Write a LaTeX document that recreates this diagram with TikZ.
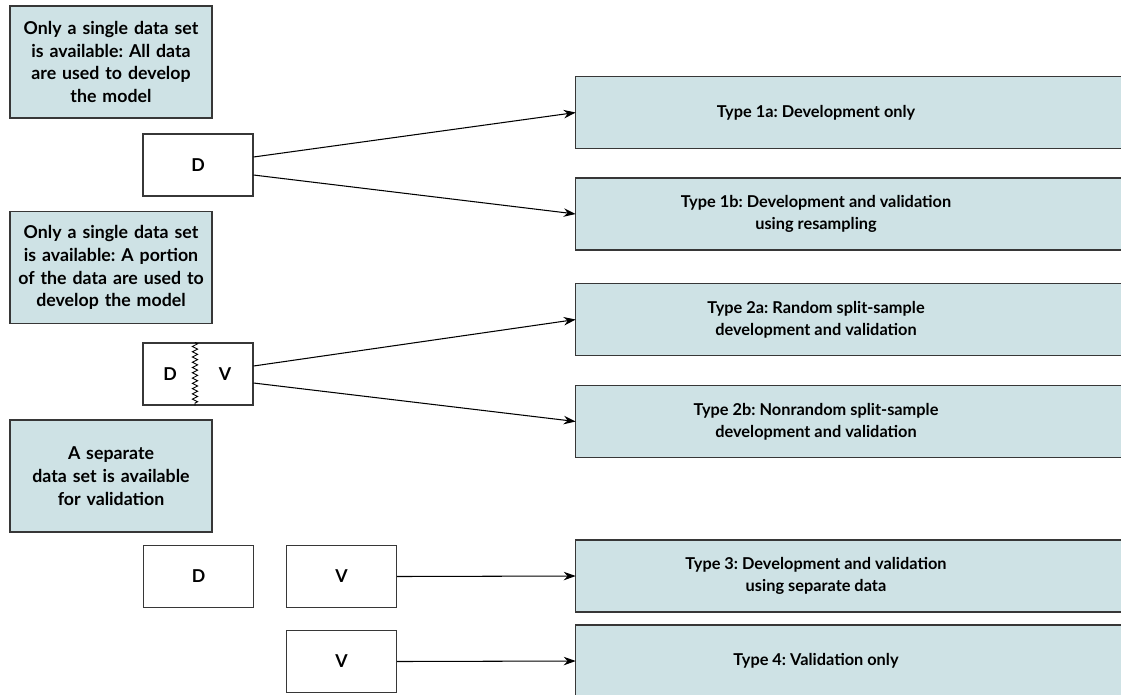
\documentclass[tikz,border=0pt]{standalone}
\usepackage{fontspec}
\setmainfont{Lato}
\frenchspacing
\usetikzlibrary{arrows.meta,backgrounds,decorations.pathmorphing}
\definecolor{boxfill}{RGB}{206,226,229}
\definecolor{boxline}{RGB}{55,55,55}
\tikzset{
	labelfont/.style={font=\bfseries\fontsize{9.3}{12.6}\selectfont},
	notefont/.style={font=\bfseries\fontsize{10.1}{13}\selectfont},
	notebox/.style={notefont, draw=boxline, line width=0.8pt, fill=boxfill, minimum width=4.04cm, minimum height=2.24cm, text width=3.9cm, align=center, inner sep=0pt},
	databox/.style={notefont, draw=boxline, line width=0.6pt, minimum width=2.2cm, minimum height=1.24cm},
	typebox/.style={labelfont, minimum width=9.6cm, minimum height=1.42cm, align=center, inner sep=0pt},
	flow/.style={-{Stealth[length=0.24cm,width=0.17cm]}, line width=0.6pt}
}

\begin{document}
\begin{tikzpicture}[x=0.02cm, y=-0.02cm]
			%%%%% START %%%%%
			\useasboundingbox (0, 0) rectangle (1121, 694);
			
			% left notes
			\node[notebox] (note1) at (111, 62) {Only a single data set\\ is available: All data\\ are used to develop\\ the model};
			\node[notebox] (note2) at (111, 267.5) {Only a single data set\\ is available: A portion\\ of the data are used to\\ develop the model};
			\node[notebox] (note3) at (111, 476) {A separate\\ data set is available\\ for validation};
			
			% data sets
			\node[databox] (dev1) at (198, 165) {D};
			\node[databox] (split) at (198, 374) {};
			\node[notefont] (splitD) at (170, 374) {D};
			\node[notefont] (splitV) at (225, 374) {V};
			\draw[line width=0.5pt, decorate, decoration={zigzag, segment length=3pt, amplitude=1.5pt}] ([xshift=-0.06cm]split.north) -- ([xshift=-0.06cm]split.south);
			\node[databox] (dev3) at (198.5, 576.5) {D};
			\node[databox] (val3) at (341.5, 576.5) {V};
			\node[databox] (val4) at (341.5, 661.5) {V};
			
			% study types
			\node[typebox] (type1a) at (816, 112.5) {Type 1a: Development only};
			\node[typebox] (type1b) at (816, 214) {Type 1b: Development and validation\\ using resampling};
			\node[typebox] (type2a) at (816, 319.5) {Type 2a: Random split-sample\\ development and validation};
			\node[typebox] (type2b) at (816, 421.5) {Type 2b: Nonrandom split-sample\\ development and validation};
			\node[typebox] (type3) at (816, 576) {Type 3: Development and validation\\ using separate data};
			\node[typebox] (type4) at (816, 661) {Type 4: Validation only};
			\begin{scope}[on background layer]
				\foreach \t in {type1a, type1b, type2a, type2b, type3, type4}
					\draw[draw=boxline, line width=0.8pt, fill=boxfill] (\t.north west) rectangle ([xshift=2cm]\t.south east);
			\end{scope}
			
			% arrows
			\draw[flow] ([yshift=0.16cm]dev1.east) -- (type1a.west);
			\draw[flow] ([yshift=-0.2cm]dev1.east) -- (type1b.west);
			\draw[flow] ([yshift=0.16cm]split.east) -- (type2a.west);
			\draw[flow] ([yshift=-0.18cm]split.east) -- (type2b.west);
			\draw[flow] (val3.east) -- (type3.west);
			\draw[flow] (val4.east) -- (type4.west);
			%%%%% END %%%%%
\end{tikzpicture}
\end{document}
